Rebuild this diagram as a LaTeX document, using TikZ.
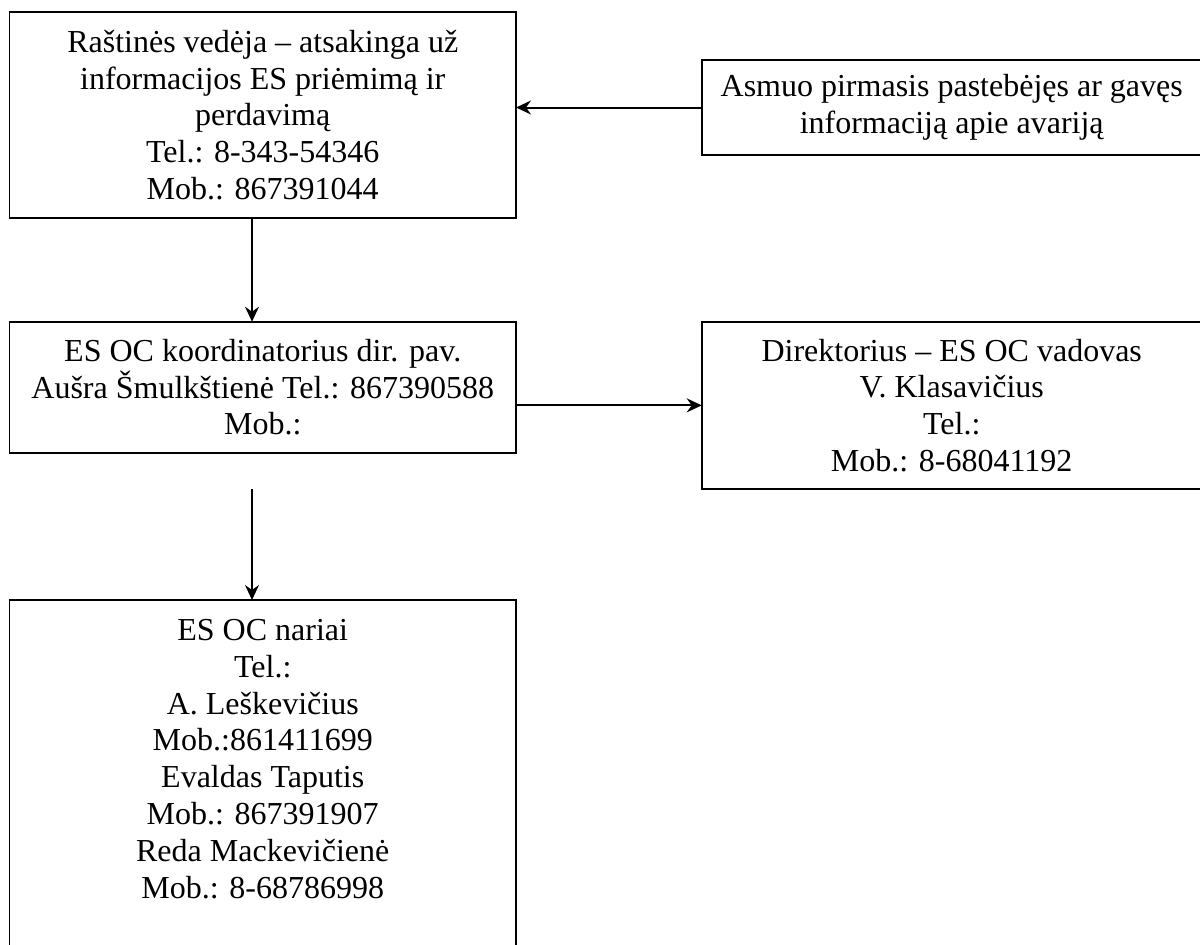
\documentclass[tikz,border=0pt]{standalone}
\usepackage{fontspec}
\setmainfont{Liberation Serif}
\usepackage{tikz}
\usetikzlibrary{arrows.meta}

\tikzset{
  box/.style={draw, line width=0.9pt, rectangle, anchor=north west, align=center,
    inner sep=0pt, outer sep=0pt, font=\fontsize{16pt}{18.4pt}\selectfont},
  >={Stealth[length=7.5pt, width=7pt, inset=2.5pt]}
}

\begin{document}
\begin{tikzpicture}[x=0.5pt, y=-0.5pt]
\useasboundingbox (0, 0) rectangle (1200, 944);
\node[box, minimum width=253.25pt, minimum height=103pt] (rastine) at (9.5, 12)
  {Raštinės vedėja – atsakinga už\\ informacijos ES priėmimą ir\\ perdavimą\\ Tel.: 8-343-54346\\ Mob.: 867391044};
\node[box, minimum width=250pt, minimum height=47.5pt] (asmuo) at (701.7, 60)
  {Asmuo pirmasis pastebėjęs ar gavęs\\ informaciją apie avariją};
\node[box, minimum width=253.25pt, minimum height=65.5pt] (koord) at (9.5, 321.7)
  {ES OC koordinatorius dir. pav.\\ Aušra Šmulkštienė Tel.: 867390588\\ Mob.:};
\node[box, minimum width=250pt, minimum height=83.65pt] (direktorius) at (701.7, 321.7)
  {Direktorius – ES OC vadovas\\ V. Klasavičius\\ Tel.:\\ Mob.: 8-68041192};
\node[box, minimum width=253.25pt, minimum height=195.5pt] (nariai) at (9.5, 600)
  {ES OC nariai\\ Tel.:\\ A. Leškevičius\\ Mob.:861411699\\ Evaldas Taputis\\ Mob.: 867391907\\
   Reda Mackevičienė\\ Mob.: 8-68786998\\ \mbox{}\\ \mbox{}};
\coordinate (col) at (252, 0);
\coordinate (gap) at (252, 489);
\draw[->, line width=1pt] (asmuo.west) -- (asmuo.west -| rastine.east);
\draw[->, line width=1pt] (rastine.south -| col) -- (koord.north -| col);
\draw[->, line width=1pt] (koord.east |- direktorius.west) -- (direktorius.west);
\draw[->, line width=1pt] (gap) -- (gap |- nariai.north);
\end{tikzpicture}
\end{document}
